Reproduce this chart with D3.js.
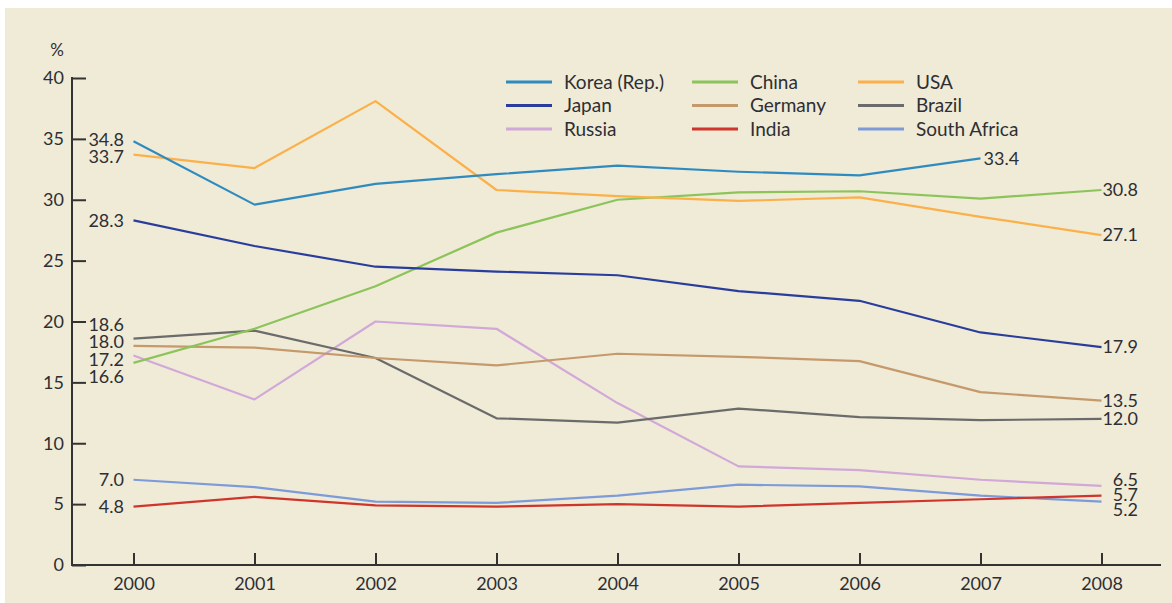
<!DOCTYPE html>
<html>
<head>
<meta charset="utf-8">
<script src="https://cdn.jsdelivr.net/npm/d3@7"></script>
<style>
  html, body { margin: 0; padding: 0; background: #ffffff; }
  svg { display: block; }
  text { font-family: Lato, "Open Sans", sans-serif; fill: #2e2e33; }
</style>
</head>
<body>
<svg id="chart" width="1172" height="603"></svg>
<script>
const years = [2000, 2001, 2002, 2003, 2004, 2005, 2006, 2007, 2008];
const korea       = [34.8, 29.6, 31.3, 32.1, 32.8, 32.3, 32.0, 33.4, null];
const japan       = [28.3, 26.2, 24.5, 24.1, 23.8, 22.5, 21.7, 19.1, 17.9];
const russia      = [17.2, 13.6, 20.0, 19.4, 13.3, 8.1, 7.8, 7.0, 6.5];
const china       = [16.6, 19.4, 22.9, 27.3, 30.0, 30.6, 30.7, 30.1, 30.8];
const germany     = [18.0, 17.85, 17.0, 16.4, 17.35, 17.1, 16.75, 14.2, 13.5];
const india       = [4.8, 5.6, 4.9, 4.8, 5.0, 4.8, 5.1, 5.4, 5.7];
const usa         = [33.7, 32.6, 38.1, 30.8, 30.3, 29.9, 30.2, 28.6, 27.1];
const brazil      = [18.6, 19.25, 17.0, 12.05, 11.7, 12.85, 12.15, 11.9, 12.0];
const southAfrica = [7.0, 6.4, 5.2, 5.1, 5.7, 6.6, 6.45, 5.7, 5.2];
const yTicks = [0, 5, 10, 15, 20, 25, 30, 35, 40];
const yUnit = "%";

// legend order: column-major (3 columns x 3 rows)
const seriesNames = ["Korea (Rep.)", "Japan", "Russia", "China", "Germany", "India", "USA", "Brazil", "South Africa"];
const seriesValues = [korea, japan, russia, china, germany, india, usa, brazil, southAfrica];
const seriesColors = ["#2f8bbf", "#2a3d9c", "#d1a8d8", "#8cc45a", "#c5996b", "#d0352c", "#fcb04a", "#6b6b6b", "#7d9bd9"];

const svg = d3.select("#chart");
svg.append("rect").attr("x", 5).attr("y", 8).attr("width", 1167).attr("height", 595).attr("fill", "#efebd7");

const x = d3.scaleLinear().domain([2000, 2008]).range([133.5, 1101.5]);
const y = d3.scaleLinear().domain([0, 40]).range([565, 78]);
const axisColor = "#333333";

// Y axis
const gy = svg.append("g").attr("transform", "translate(72,0)")
  .call(d3.axisLeft(y).tickValues(yTicks).tickSize(-14).tickPadding(8).tickSizeOuter(0));
gy.select(".domain").remove();
gy.selectAll(".tick line").attr("stroke", axisColor).attr("stroke-width", 2);
gy.selectAll(".tick text").attr("font-size", 18).style("font-family", "Lato, sans-serif").attr("fill", "#2e2e33");
svg.append("line").attr("x1", 72).attr("x2", 72).attr("y1", y(40) - 1).attr("y2", y(0))
  .attr("stroke", axisColor).attr("stroke-width", 2);
svg.append("text").attr("x", 57).attr("y", 50).attr("dy", "0.35em").attr("text-anchor", "middle")
  .attr("font-size", 17).text(yUnit);

// X axis
const gx = svg.append("g").attr("transform", "translate(0,565)")
  .call(d3.axisBottom(x).tickValues(years).tickFormat(d3.format("d")).tickSize(-12).tickPadding(12).tickSizeOuter(0));
gx.select(".domain").remove();
gx.selectAll(".tick line").attr("stroke", axisColor).attr("stroke-width", 2);
gx.selectAll(".tick text").attr("font-size", 18).style("font-family", "Lato, sans-serif").attr("fill", "#2e2e33");
svg.append("line").attr("x1", 71).attr("x2", 1161).attr("y1", 565).attr("y2", 565)
  .attr("stroke", axisColor).attr("stroke-width", 2);

// Lines
const line = d3.line()
  .defined(d => d.v !== null)
  .x(d => x(d.year))
  .y(d => y(d.v));

const drawOrder = [8, 5, 2, 7, 4, 3, 1, 6, 0];
drawOrder.forEach(i => {
  const pts = years.map((yr, j) => ({ year: yr, v: seriesValues[i][j] }));
  svg.append("path").datum(pts)
    .attr("fill", "none")
    .attr("stroke", seriesColors[i])
    .attr("stroke-width", 2.2)
    .attr("stroke-linejoin", "round")
    .attr("d", line);
});

// Value labels with simple overlap spreading
function spread(items, gap) {
  items.sort((a, b) => a.y - b.y);
  let changed = true, guard = 0;
  let groups = items.map(it => ({ members: [it], center: it.y }));
  while (changed && guard++ < 50) {
    changed = false;
    for (let k = 0; k < groups.length - 1; k++) {
      const a = groups[k], b = groups[k + 1];
      const aBottom = a.center + (a.members.length - 1) * gap / 2;
      const bTop = b.center - (b.members.length - 1) * gap / 2;
      if (bTop - aBottom < gap) {
        const members = a.members.concat(b.members);
        const center = d3.mean(members, m => m.y);
        groups.splice(k, 2, { members, center });
        changed = true;
        break;
      }
    }
  }
  groups.forEach(g => {
    const n = g.members.length;
    g.members.forEach((m, idx) => { m.ly = g.center + (idx - (n - 1) / 2) * gap; });
  });
  return items;
}

const fmt = d3.format(".1f");
const leftItems = seriesValues.map(s => ({ v: s[0], y: y(s[0]) }));
spread(leftItems, 17.5).forEach(it => {
  svg.append("text").attr("x", 124).attr("y", it.ly).attr("dy", "0.35em")
    .attr("text-anchor", "end").attr("font-size", 18).text(fmt(it.v));
});

const rightItems = seriesValues.filter(s => s[8] !== null).map(s => ({ v: s[8], y: y(s[8]) }));
spread(rightItems, 15).forEach(it => {
  svg.append("text").attr("x", 1138).attr("y", it.ly).attr("dy", "0.35em")
    .attr("text-anchor", "end").attr("font-size", 18).text(fmt(it.v));
});

// Korea ends at 2007
svg.append("text").attr("x", x(2007) + 3).attr("y", y(korea[7])).attr("dy", "0.35em")
  .attr("text-anchor", "start").attr("font-size", 18).text(fmt(korea[7]));

// Legend
const legendCols = [506, 692, 858];
const legendRows = [82, 105.5, 129];
seriesNames.forEach((name, i) => {
  const col = Math.floor(i / 3), row = i % 3;
  const lx = legendCols[col], ly = legendRows[row];
  svg.append("line").attr("x1", lx).attr("x2", lx + 46).attr("y1", ly).attr("y2", ly)
    .attr("stroke", seriesColors[i]).attr("stroke-width", 3);
  svg.append("text").attr("x", lx + 58).attr("y", ly).attr("dy", "0.35em")
    .attr("font-size", 19).text(name);
});
</script>
</body>
</html>
